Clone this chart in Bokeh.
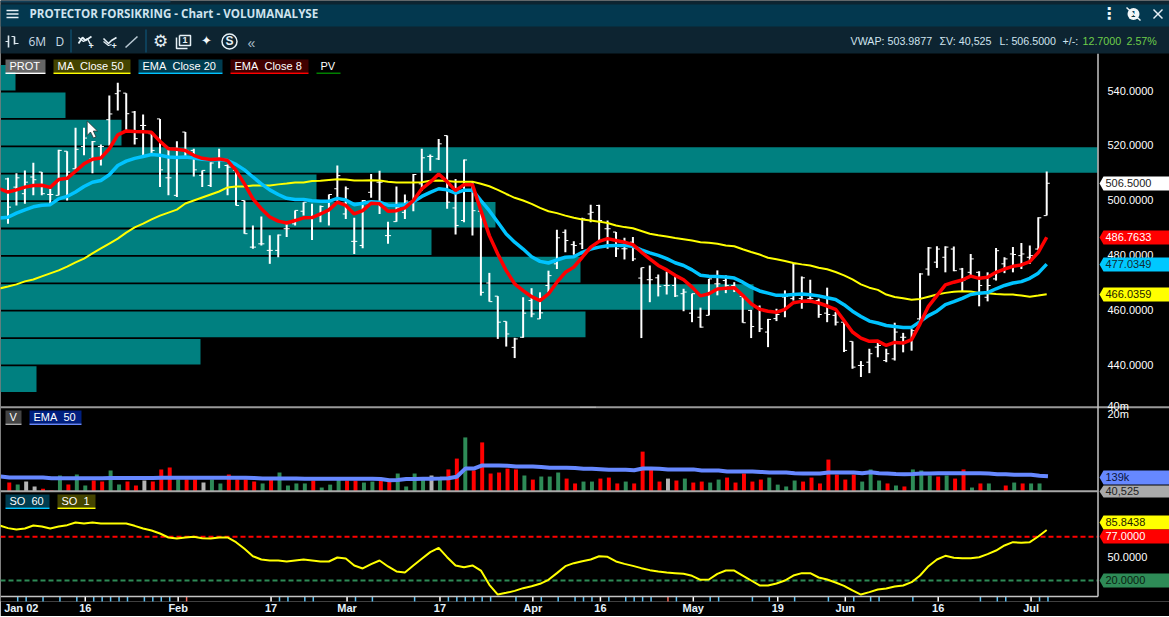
from bokeh.plotting import figure
from bokeh.embed import file_html
from bokeh.resources import INLINE
from bokeh.core.properties import value
from bokeh.models import Range1d, LogScale, FixedTicker

# ---------- daily OHLC ----------
highs = [508.5,510.2,511.2,514.0,510.6,504.5,518.7,518.2,526.8,526.8,521.9,520.7,538.5,543.2,539.4,532.9,531.6,524.6,530.0,519.7,
 521.8,525.2,519.1,511.2,514.2,519.1,513.4,511.2,500.2,491.1,494.4,487.5,487.8,491.7,496.6,
 499.6,499.0,498.4,502.4,513.0,505.3,493.9,500.4,509.9,511.1,492.5,505.3,502.4,509.9,519.1,517.0,522.7,523.9,508.1,515.2,506.9,
 496.3,473.8,465.3,456.1,450.1,464.9,468.2,466.7,474.6,489.5,489.6,485.3,493.9,498.7,498.7,
 492.9,488.7,486.6,486.9,475.7,476.5,473.2,474.3,472.5,468.0,466.2,461.1,471.6,474.7,472.9,470.4,465.9,460.3,461.9,457.0,460.7,
 467.4,477.4,472.5,471.3,464.4,468.4,459.5,456.2,448.8,441.6,446.1,449.1,446.1,455.6,
 451.9,453.3,473.7,483.2,483.5,483.5,483.4,475.6,480.7,474.4,474.0,482.9,479.5,483.2,484.7,483.8,494.1,510.8]
lows = [491.7,498.4,499.0,502.1,502.1,499.0,502.1,500.2,511.8,516.7,510.2,513.0,520.3,533.1,525.2,520.7,516.7,517.3,505.1,502.1,
 501.5,515.8,509.0,505.1,505.1,512.0,502.1,498.4,488.1,482.6,483.8,477.1,479.5,486.9,491.1,
 494.7,485.8,492.3,491.1,499.0,493.5,480.7,482.8,501.2,495.3,484.4,492.5,493.5,496.3,503.8,511.1,515.0,497.2,487.8,492.3,487.4,
 465.5,463.3,449.7,446.9,442.7,450.1,457.6,457.0,466.7,475.2,481.3,480.4,482.5,492.3,485.6,
 482.6,479.6,478.7,478.1,450.0,463.1,465.2,465.9,465.0,459.8,455.8,453.8,458.3,465.6,466.4,466.8,455.6,450.0,452.2,446.7,456.2,
 457.6,463.7,460.7,464.0,457.4,455.8,454.6,444.9,438.8,435.8,437.2,443.0,441.2,441.8,
 444.8,445.4,455.2,472.8,475.6,474.0,474.4,467.1,472.4,461.6,463.4,471.0,473.7,474.0,475.2,477.1,482.2,494.7]
opens = [508.1,505.1,502.7,508.8,510.6,502.4,502.1,518.2,511.8,519.9,515.4,519.9,529.7,539.2,539.4,532.5,527.6,524.6,530.0,508.5,
 502.1,525.2,518.5,509.4,505.7,515.4,513.0,511.2,500.2,483.2,484.4,482.0,482.0,489.9,491.7,
 496.3,494.1,494.7,496.5,504.5,495.3,485.3,483.8,503.2,506.9,487.4,492.5,495.9,499.6,506.3,516.3,515.4,523.9,497.5,492.9,506.3,
 496.3,470.1,465.3,456.1,446.6,450.3,463.7,457.0,469.2,477.1,488.6,484.1,484.4,495.3,498.4,
 489.9,488.7,482.6,485.0,471.9,471.3,472.0,469.2,469.2,466.2,459.1,457.6,458.3,469.8,471.0,469.2,465.2,460.1,461.3,452.2,457.1,
 465.0,464.4,464.4,464.4,463.7,459.1,458.3,455.8,448.8,440.0,441.2,446.7,441.8,442.4,
 450.3,449.1,457.0,475.2,477.7,479.5,482.5,475.2,474.0,474.0,464.9,471.6,477.1,480.7,480.1,479.5,482.5,494.7]
closes = [497.8,508.5,506.9,507.8,502.7,502.4,518.5,510.6,518.9,523.0,521.7,519.9,531.8,540.2,531.9,522.8,527.6,518.5,511.4,508.5,
 519.1,518.5,511.4,511.2,513.9,515.4,512.4,498.4,488.1,483.2,484.4,482.0,487.6,489.9,496.6,
 499.6,494.1,498.0,502.4,509.3,504.5,485.3,500.2,507.5,506.9,487.4,497.8,500.0,509.7,515.8,516.3,520.9,499.6,491.1,515.0,496.5,
 466.7,463.3,455.8,451.5,449.7,459.1,458.8,459.2,472.8,486.6,485.6,483.8,493.5,495.9,492.9,
 489.9,482.6,482.6,478.9,475.7,471.3,468.9,469.2,465.4,466.8,466.2,454.0,471.6,469.8,469.2,467.4,455.6,454.2,453.4,456.8,458.6,
 465.2,477.1,472.0,464.4,458.6,458.6,455.8,445.5,439.4,440.0,444.3,447.3,444.3,452.2,
 450.3,452.7,473.4,482.9,482.5,483.2,474.6,471.0,478.9,469.2,469.2,481.9,478.9,480.5,480.7,480.1,493.9,506.5]

# ---------- moving averages (first value is the bar just off the left edge) ----------
ema8 = [504.5,503.3,504.1,505.1,505.7,505.8,505.0,507.9,508.3,510.9,513.6,515.3,515.7,519.1,524.2,525.6,525.4,525.3,525.1,521.8,519.1,
 518.9,518.5,516.7,515.6,515.2,515.4,514.8,511.2,506.3,500.8,497.2,494.2,492.7,492.0,492.9,
 493.9,494.0,495.3,496.8,499.6,498.4,495.3,496.5,499.2,499.0,496.3,496.5,497.5,500.2,504.5,506.9,509.9,507.1,503.8,506.0,506.0,
 496.5,487.4,480.7,474.6,469.8,467.3,465.1,463.7,466.1,470.4,474.0,475.9,479.5,483.2,485.3,
 486.3,485.6,485.0,484.1,481.4,478.9,476.5,474.9,472.9,471.3,468.6,465.4,466.2,467.9,468.2,468.4,465.6,462.5,460.5,459.8,459.4,
 460.5,462.9,463.4,463.5,462.8,461.7,460.5,456.4,452.2,450.0,448.8,448.9,447.3,448.4,
 448.2,449.4,455.2,461.6,465.5,469.4,470.4,471.2,472.6,471.8,472.2,474.0,475.2,476.2,476.7,477.9,481.3,486.8]
ema20 = [493.8,494.1,495.6,496.8,497.9,498.5,498.7,500.8,501.7,503.3,505.3,506.9,507.5,509.6,513.0,514.6,515.6,516.3,517.0,516.7,516.1,
 515.9,516.1,515.7,515.3,515.1,515.2,514.8,513.4,511.4,508.8,506.3,504.1,502.4,501.0,500.6,
 500.6,500.1,499.9,499.9,501.0,500.4,498.7,499.2,499.8,499.6,498.5,498.4,498.7,499.8,501.7,503.2,504.5,504.1,502.9,504.0,504.0,
 500.2,496.5,492.3,488.0,485.0,482.5,479.7,478.0,477.4,478.5,479.5,479.7,481.3,482.5,483.2,
 483.7,483.8,483.8,483.5,482.2,481.1,480.2,479.0,477.5,476.5,474.9,472.9,472.6,472.5,472.3,471.9,470.4,468.6,467.2,466.4,465.6,
 465.6,465.9,466.1,465.8,465.4,464.7,464.1,462.2,459.8,457.9,456.2,455.5,454.6,454.2,
 453.9,453.9,456.0,458.2,459.8,462.2,463.3,464.5,465.9,466.4,466.6,468.0,469.2,470.1,470.6,471.8,473.7,477.0]
ma50 = [468.1,468.8,469.6,470.7,471.4,472.5,473.6,474.7,476.1,477.6,479.0,480.9,482.7,484.5,486.3,488.5,490.4,491.8,493.3,494.7,495.8,
 496.9,499.1,500.2,501.3,502.4,503.5,505.0,505.3,505.3,505.7,505.7,505.7,506.1,506.4,506.8,
 506.8,507.3,507.4,507.7,508.0,507.9,507.5,507.5,507.6,507.5,507.1,506.8,506.8,506.8,506.9,507.4,507.5,507.3,507.1,507.1,507.1,
 506.3,505.4,504.1,502.6,501.2,500.2,499.0,497.5,496.3,495.6,494.7,493.9,493.3,492.9,492.5,
 492.0,491.1,490.5,490.1,489.1,488.1,487.5,487.1,486.5,486.1,485.6,485.0,484.8,484.4,483.8,483.5,482.4,481.4,480.5,479.3,478.8,
 478.1,477.4,476.9,476.5,475.7,475.1,474.1,472.9,471.4,469.6,468.4,467.6,465.9,465.0,
 464.5,464.0,464.3,465.1,465.9,466.5,466.9,467.1,467.0,466.5,466.4,466.1,465.9,465.9,465.5,465.1,465.5,466.0]

# ---------- volume profile by 10-point price bucket ----------
pv_price = [545,535,525,515,505,495,485,475,465,455,445,435]
pv_size = [15,65,121,1097,316,495,431,580,753,585,200,36]

# ---------- volume, thousands ----------
vol_k = [84,71,91,61,51,44,149,71,161,66, 99,91,224,71,91,66,99,91,244,287,
 107,107,107,84,107,78,161,107,107,91, 78,107,190,66,78,78,99,56,71,107,
 99,99,84,91,99,91,175,61,175,107, 149,107,244,590,3300,224,2200,175,190,262,
 244,149,107,137,137,190,116,78,91,91, 116,126,78,91,78,1040,244,91,116,99,
 116,84,91,84,107,126,84,175,91,107, 126,71,61,99,91,126,78,545,161,107,
 161,91,244,99,78,66,61,244,224,149, 137,149,116,244,56,78,78,44,66,84,
 78,78,78,40.525]
vol_side = list("rgaarrgrgg" + "rrggrrarrr" + "grraggrrrr" + "grggggrggg" + "rrggrrgggg"
 + "agrrgrrrrr" + "rgrgggrrgg" + "rrrgrrrrar" + "grrggrrrrr" + "ggggrrrrrr" + "rgggrgrggg" + "rgrrgrggrg" + "rggg")
vol_ema = [137,126,126,126,126,126,120,118,118,120,120,120,120,122,122,122,122,122,122,124,124,
 124,124,124,124,124,124,124,124,124,122,116,116,116,116,116,114,114,114,114,114,
 114,114,114,114,112,102,104,112,112,114,114,116,120,134,262,262,339,339,339,330,
 310,307,307,300,280,280,280,275,257,257,250,238,238,238,230,262,262,257,245,245,
 245,245,224,224,224,205,205,205,205,200,190,190,190,180,175,175,175,190,190,190,
 190,180,195,180,175,170,166,170,175,175,180,180,180,180,180,180,175,166,166,158,
 158,158,146,139]

# ---------- stochastic ----------
so_1 = [91.7,88.3,86.5,87.8,91.7,90.4,87.8,90.4,92.2,95.7,94.4,95.7,94.4,94.4,94.4,94.4,91.3,87.8,85.2,81.3,76.1,
 74.8,76.1,77.0,75.2,74.8,76.1,76.1,70.0,61.3,51.7,47.4,46.1,46.1,44.8,46.1,
 47.4,46.1,44.8,44.8,50.0,48.7,39.6,35.7,41.3,46.1,38.3,31.8,30.4,39.6,48.3,57.0,62.6,50.4,
 39.6,37.4,39.6,33.0,14.4,1.7,3.9,6.5,10.0,12.6,15.7,20.9,29.6,38.7,42.6,45.2,47.4,51.7,
 50.9,44.8,41.7,39.1,36.1,33.5,31.8,30.4,29.6,28.7,26.1,20.9,21.3,28.7,33.0,33.0,26.5,20.0,13.5,13.5,
 16.1,20.0,26.5,29.6,29.6,23.9,21.3,17.4,13.0,7.0,1.7,4.8,8.3,9.6,12.2,
 13.5,17.8,26.5,38.7,47.4,52.2,49.6,49.1,49.1,50.4,54.4,59.1,65.7,70.0,69.1,70.0,77.4,85.8]
so_levels = [77, 20]

# ---------- axis content ----------
price_ticks = [540, 520, 500, 480, 460, 440]
vol_ticks = [40000, 20000]
vol_tick_labels = ["40m", "20m"]
so_tick = 50
label_ticks = [1.42, 9, 20, 31, 40, 51, 62, 70, 81, 91, 99, 110, 121]
label_texts = ["Jan 02", "16", "Feb", "17", "Mar", "17", "Apr", "16", "May", "19", "Jun", "16", "Jul"]
white_ticks = [9, 20, 31, 40, 51, 62, 70, 81, 91, 99, 110, 121]
salmon_ticks = [21, 78]
blue_ticks = [1,2,4,6,8,10,11,12,13,14,16,17,18,19,32,33,35,36,41,43,48,52,53,54,55,56,57,60,63,65,67,68,69,71,73,74,75,76,
 79,83,84,88,90,93,97,100,102,103,107,115,117,118,122,123]

assert len(highs) == len(lows) == len(opens) == len(closes) == len(vol_k) == len(vol_side) == 124
assert len(ema8) == len(ema20) == len(ma50) == len(vol_ema) == len(so_1) == 125

idx = list(range(124))
idx_l = list(range(-1, 124))
SHIFT = 0.15  # volume bars and date ticks sit a pixel right of the price bars

W, H = 1169, 601
p = figure(width=W, height=615, frame_width=W, frame_height=H, output_backend="svg", toolbar_location=None,
           x_range=Range1d(-0.888, 137.54), y_range=Range1d(353.85, 573.215),
           min_border_left=0, min_border_right=0, min_border_top=0, min_border_bottom=14,
           background_fill_color="black", border_fill_color="black", outline_line_color=None)
p.extra_x_ranges = {"px": Range1d(0, W)}
p.extra_y_ranges = {"px": Range1d(H, 0), "vol": Range1d(0.00526, 9.07e18), "so": Range1d(-7.39, 776.5)}
p.extra_y_scales = {"vol": LogScale()}
p.grid.visible = False
p.yaxis.visible = False
ax = p.xaxis[0]
ax.ticker = FixedTicker(ticks=[t + SHIFT for t in label_ticks])
ax.major_label_overrides = {t + SHIFT: s for t, s in zip(label_ticks, label_texts)}
ax.axis_line_color = None
ax.major_tick_line_color = None
ax.minor_tick_line_color = None
ax.major_tick_out = 0
ax.major_tick_in = 0
ax.minor_tick_out = 0
ax.minor_tick_in = 0
ax.major_label_standoff = 0
ax.major_label_text_color = "#e6f2fb"
ax.major_label_text_font = "Liberation Sans"
ax.major_label_text_font_size = "11px"
ax.major_label_text_font_style = "bold"

PX = dict(x_range_name="px", y_range_name="px")
SANS = value("Liberation Sans")

def box(l, r, t, b, color):
    p.quad(left=[l], right=[r], top=[t], bottom=[b], fill_color=color, line_color=None, **PX)

def txt(x, y, s, color="#ffffff", size="11px", font=SANS, align="left", style="normal"):
    p.text(x=[x], y=[y], text=[s], text_color=color, text_font_size=size, text_font=font, text_align=align,
           text_baseline="middle", text_font_style=style, y_offset=-0.8, **PX)

def ln(xs, ys, color="#ffffff", w=1.5):
    p.line(x=xs, y=ys, line_color=color, line_width=w, **PX)

# volume profile
p.hbar(y=pv_price, left=0, right=pv_size, height=9.35, fill_color="#008080", line_color=None, x_range_name="px")

# OHLC bars
p.segment(x0=idx, x1=idx, y0=lows, y1=highs, line_color="white", line_width=2)
p.segment(x0=[i - 0.36 for i in idx], x1=idx, y0=opens, y1=opens, line_color="white", line_width=1)
p.segment(x0=idx, x1=[i + 0.36 for i in idx], y0=closes, y1=closes, line_color="white", line_width=1)

# averages
p.line(x=idx_l, y=ma50, line_color="#ffff00", line_width=2)
p.line(x=idx_l, y=ema20, line_color="#00c3ff", line_width=3.5)
p.line(x=idx_l, y=ema8, line_color="#ff0000", line_width=3.5)

# volume
vcolors = {"r": "#ff0000", "g": "#2e8b57", "a": "#b4b4b4"}
p.vbar(x=[i + SHIFT for i in idx], width=0.47, bottom=40.525, top=vol_k,
       fill_color=[vcolors[c] for c in vol_side], line_color=None, y_range_name="vol")
p.line(x=[i + SHIFT for i in idx_l], y=vol_ema, line_color="#6688ff", line_width=4, y_range_name="vol")

# stochastic
p.segment(x0=[0, 0], x1=[1097, 1097], y0=so_levels, y1=so_levels, line_color=["#ff0000", "#2e8b57"],
          line_width=2, line_dash="5 3", x_range_name="px", y_range_name="so")
p.line(x=idx_l, y=so_1, line_color="#ffff00", line_width=2, y_range_name="so")

# date ticks
for ticks, col in ((blue_ticks, "#5cc0f2"), (white_ticks, "#ffffff"), (salmon_ticks, "#f5695a")):
    p.segment(x0=[t + SHIFT for t in ticks], x1=[t + SHIFT for t in ticks], y0=596, y1=601.5,
              line_color=col, line_width=1.5, y_range_name="px")

# frame rules
ln([0, 1169], [406.7, 406.7], "#9a9a9a", 2)
ln([0, 1097], [490.8, 490.8], "#a8a8a8", 2)
ln([0, 1097.5], [596, 596], "#c4c4c4", 1.5)
ln([1097.5, 1097.5], [53, 596], "#c4c4c4", 1.5)
p.line(x=[580, 595], y=[406.7, 406.7], line_color="#dddddd", line_width=1, line_dash="1 1", **PX)

# header
box(0, W, 0, 53, "#0d2431")
box(0, W, 4, 26, "#03384f")
box(0, 170, 0, 2, "#123f58")
for yy in (10, 13.5, 17):
    ln([6, 18], [yy, yy], "#e6f0f6", 1.5)
txt(29, 13.7, "PROTECTOR FORSIKRING - Chart - VOLUMANALYSE", "#cfe3ee", "11.6px", value("Open Sans"), style="bold")
# toolbar icons
ln([8, 8], [35, 47], "#dce8ef", 1.6); ln([14, 14], [36, 44], "#dce8ef", 1.6)
ln([5, 8], [41, 41], "#dce8ef", 1.2); ln([14, 18], [43, 43], "#dce8ef", 1.2); ln([11, 14], [36, 36], "#dce8ef", 1.2)
txt(28, 42, "6M", "#c9dbe6", "12px", value("Open Sans"))
txt(55, 42, "D", "#c9dbe6", "12px", value("Open Sans"))
ln([70.5, 70.5], [29, 52], "#0e4a68", 1.5)
ln([78, 82, 85, 91], [43, 37, 40, 36], "#e6f0f6", 1.8); ln([78, 83, 87, 90], [37, 41, 38, 44], "#e6f0f6", 1.4)
txt(88, 46, "+", "#e6f0f6", "9px", style="bold")
ln([103, 108, 111, 116], [38, 43, 40, 37], "#e6f0f6", 1.6); ln([103, 108, 111], [41, 45, 44], "#e6f0f6", 1.2)
txt(111, 46, "+", "#e6f0f6", "9px", style="bold")
ln([125, 137], [47, 36], "#b8c8d2", 1.6)
ln([145.5, 145.5], [29, 52], "#0e4a68", 1.5)
txt(160, 41, "\u2699", "#e6f0f6", "17px", value("DejaVu Sans"), "center")
ln([176, 176, 187], [37, 48, 48], "#e6f0f6", 1.5)
ln([179, 179, 190, 190, 179], [35, 45, 45, 35, 35], "#e6f0f6", 1.5)
txt(184.5, 40, "1", "#e6f0f6", "9px", align="center", style="bold")
txt(206, 41, "\u2726", "#f4f8fa", "13px", value("DejaVu Sans"), "center")
txt(229, 41, "S", "#e6f0f6", "12px", align="center", style="bold")
p.circle(x=[229], y=[41], radius=7.5, fill_color=None, line_color="#e6f0f6", line_width=1.5, **PX)
txt(251, 43, "\u00ab", "#aebfca", "14px", align="center")
# window controls
txt(1108.5, 13.5, "\u22ee", "#f0f5f8", "16px", value("DejaVu Sans"), "center", "bold")
p.circle(x=[1133], y=[13.5], radius=6, fill_color="#f2f6f8", line_color=None, **PX)
txt(1133, 14.5, "1", "#03384f", "9px", align="center", style="bold")
ln([1126, 1140], [7, 20], "#f2f6f8", 1.5)
ln([1153, 1162], [9, 18], "#e6f0f6", 1.5); ln([1153, 1162], [18, 9], "#e6f0f6", 1.5)
# quote line
QF = "10.7px"
txt(850, 41.5, "VWAP: 503.9877", "#cfe3ee", QF)
txt(939, 41.5, "\u03a3V: 40,525", "#cfe3ee", QF)
txt(999, 41.5, "L: 506.5000", "#cfe3ee", QF)
txt(1062, 41.5, "+/-:", "#cfe3ee", QF)
txt(1082, 41.5, "12.7000", "#6fce4a", QF)
txt(1126, 41.5, "2.57%", "#6fce4a", QF)

# legend chips
def chip(l, r, t, s, bg, under):
    if bg:
        box(l, r, t, t + 13, bg)
    box(l, r, t + 13, t + 14.5, under)
    txt(l + 4, t + 7, s, "#ffffff", "11px")

chip(5, 45, 59, "PROT", "#666666", "#ffffff")
chip(53, 130, 59, "MA\u00a0 Close 50", "#444400", "#ffff00")
chip(138, 222, 59, "EMA\u00a0 Close 20", "#003c50", "#00c3ff")
chip(230, 308, 59, "EMA\u00a0 Close 8", "#400000", "#ff0000")
chip(316, 340, 59, "PV", None, "#008000")
chip(5, 21, 410, "V", "#444444", "#aaaaaa")
chip(29, 81, 410, "EMA\u00a0 50", "#001f7f", "#6688ff")
chip(5, 49, 494, "SO\u00a0 60", "#003c50", "#00c3ff")
chip(57, 95, 494, "SO\u00a0 1", "#444400", "#ffff00")

# mouse pointer
p.patch(x=[86.7, 86.7, 90, 93, 95.5, 92.8, 97], y=[120.5, 135, 131.5, 137.5, 136.3, 130.5, 130.5],
        fill_color="white", line_color="#222222", line_width=0.7, **PX)

# value axis labels
p.text(x=1107, y=price_ticks, text=[f"{t:.4f}" for t in price_ticks], text_color="#ffffff", text_font=SANS,
       text_font_size="11px", text_baseline="middle", y_offset=-0.8, x_range_name="px")
p.text(x=1107, y=vol_ticks, text=vol_tick_labels, text_color="#ffffff", text_font=SANS,
       text_font_size="11px", text_baseline="middle", y_offset=-0.8, x_range_name="px", y_range_name="vol")
p.text(x=1107, y=[so_tick], text=[f"{so_tick:.4f}"], text_color="#ffffff", text_font=SANS,
       text_font_size="11px", text_baseline="middle", y_offset=-0.8, x_range_name="px", y_range_name="so")

# last-value tags
def tag(yc, s, bg, fg, half=7):
    p.patch(x=[1099, 1103, W, W, 1103], y=[yc, yc - half, yc - half, yc + half, yc + half],
            fill_color=bg, line_color=None, **PX)
    txt(1105, yc + 0.3, s, fg, "11px")

tag(183, "506.5000", "#ffffff", "#222222")
tag(237, "486.7633", "#ff0000", "#ffffff")
tag(264, "477.0349", "#00c8ff", "#102a33")
tag(294, "466.0359", "#ffff00", "#222200")
tag(477, "139k", "#6688ff", "#0a1440")
tag(491, "40,525", "#aaaaaa", "#222222", 6)
tag(522, "85.8438", "#ffff00", "#222200")
tag(536, "77.0000", "#ff0000", "#ffffff")
tag(580, "20.0000", "#2e8b57", "#0a2010")

open("out.html", "w").write(file_html(p, INLINE))
